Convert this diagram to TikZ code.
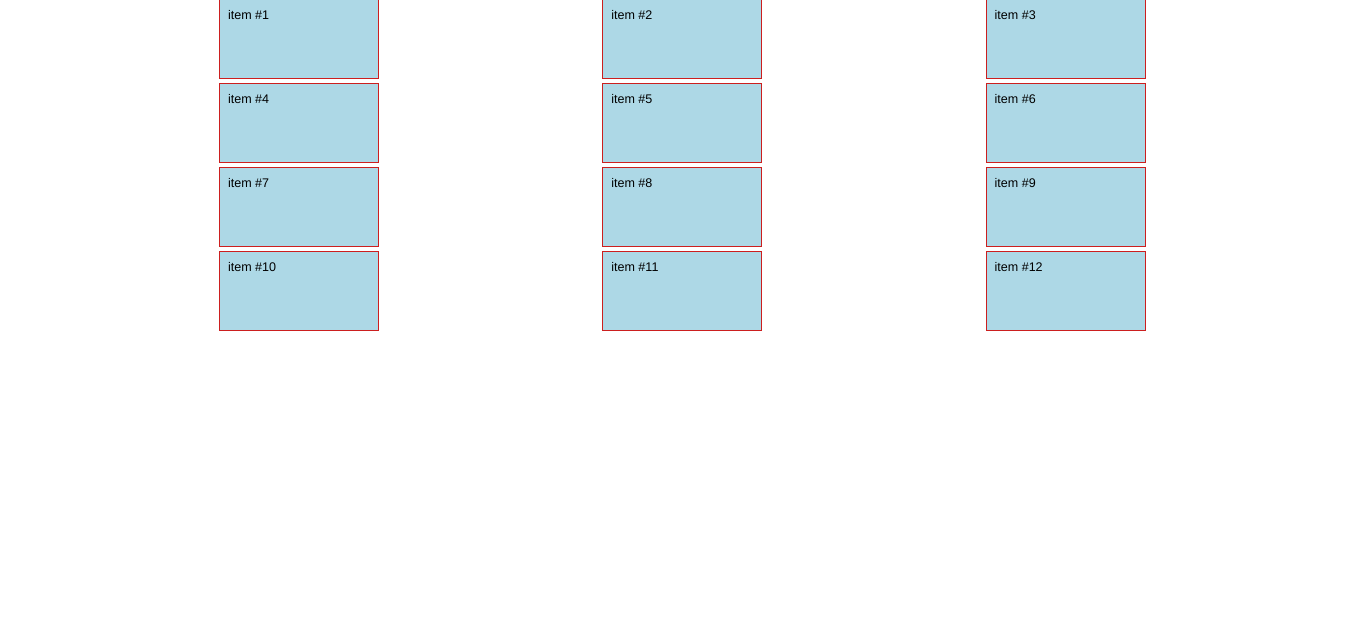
\documentclass[tikz,border=0pt]{standalone}
\usepackage{fontspec}
\setmainfont{Liberation Sans}
\usetikzlibrary{positioning}
\definecolor{ItemBlue}{HTML}{ADD8E6}
\definecolor{ItemRed}{HTML}{CC1F1F}

\begin{document}
\begin{tikzpicture}[x=0.75pt, y=0.75pt, item/.style={rectangle, draw=ItemRed, fill=ItemBlue, line width=0.75pt, anchor=north west, minimum width=119.25pt, minimum height=59.25pt, inner sep=0pt, outer sep=0pt}, itemtext/.style={anchor=base west, inner sep=0pt, font=\fontsize{9.4}{11}\selectfont}]

        \useasboundingbox (0,0) rectangle (1360,-617);
        \foreach \n in {1,...,12} {
            \pgfmathtruncatemacro{\col}{mod(\n-1,3)}
            \pgfmathtruncatemacro{\row}{div(\n-1,3)}
            \pgfmathsetmacro{\px}{219.5+383.3*\col}
            \pgfmathsetmacro{\py}{-(-0.5+84*\row)}
            \node[item] (I\n) at (\px,\py) {};
            \node[itemtext] (T\n) at ([xshift=6.2pt, yshift=-15pt]I\n.north west) {item \#\n};
        }

    \end{tikzpicture}
\end{document}
